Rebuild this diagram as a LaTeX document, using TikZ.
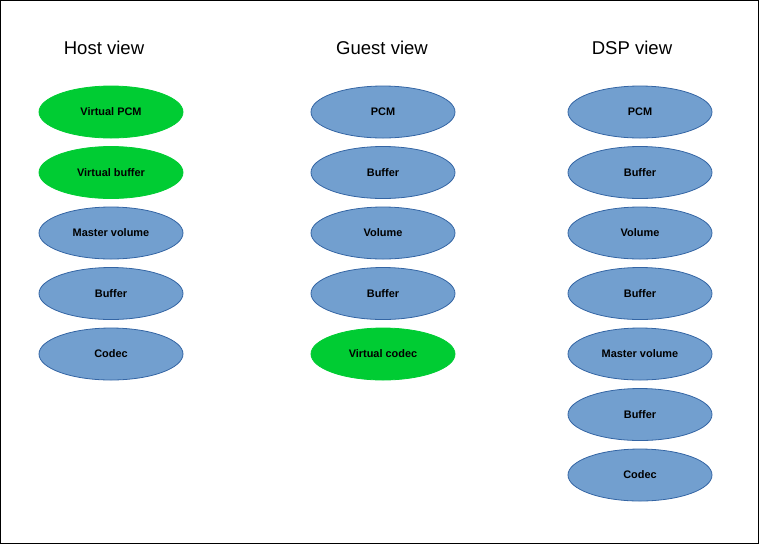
\documentclass[tikz,border=0pt]{standalone}
\usepackage{fontspec}
\setmainfont{Liberation Sans}
\usetikzlibrary{shapes.geometric}
\definecolor{bluefill}{HTML}{729FCF}
\definecolor{blueline}{HTML}{3465A4}
\definecolor{greenfill}{HTML}{00CC33}
\tikzset{
  blob/.style={ellipse, minimum width=108pt, minimum height=39pt, inner sep=0pt,
    font=\fontsize{8.2pt}{10pt}\selectfont\bfseries},
  bluebox/.style={blob, fill=bluefill, draw=blueline, line width=0.6pt},
  greenbox/.style={blob, fill=greenfill, draw=greenfill, line width=0.6pt},
  title/.style={font=\fontsize{13.9pt}{16pt}\selectfont, inner sep=0pt},
}
\begin{document}
\begin{tikzpicture}[x=0.75pt, y=-0.75pt]
\useasboundingbox (0,0) rectangle (759,544);
\draw[line width=0.75pt] (0.5,0.5) rectangle (758.5,543.5);
% titles
\node[title] (th) at (104,47.5) {Host view};
\node[title] (tg) at (382,47.5) {Guest view};
\node[title] (td) at (632,47.5) {DSP view};
% host column
\node[greenbox] (h1) at (111,112) {Virtual PCM};
\node[greenbox] (h2) at (111,172.5) {Virtual buffer};
\node[bluebox] (h3) at (111,233) {Master volume};
\node[bluebox] (h4) at (111,293.5) {Buffer};
\node[bluebox] (h5) at (111,354) {Codec};
% guest column
\node[bluebox] (g1) at (383,112) {PCM};
\node[bluebox] (g2) at (383,172.5) {Buffer};
\node[bluebox] (g3) at (383,233) {Volume};
\node[bluebox] (g4) at (383,293.5) {Buffer};
\node[greenbox] (g5) at (383,354) {Virtual codec};
% dsp column
\node[bluebox] (d1) at (640,112) {PCM};
\node[bluebox] (d2) at (640,172.5) {Buffer};
\node[bluebox] (d3) at (640,233) {Volume};
\node[bluebox] (d4) at (640,293.5) {Buffer};
\node[bluebox] (d5) at (640,354) {Master volume};
\node[bluebox] (d6) at (640,414.5) {Buffer};
\node[bluebox] (d7) at (640,475) {Codec};
\end{tikzpicture}
\end{document}
